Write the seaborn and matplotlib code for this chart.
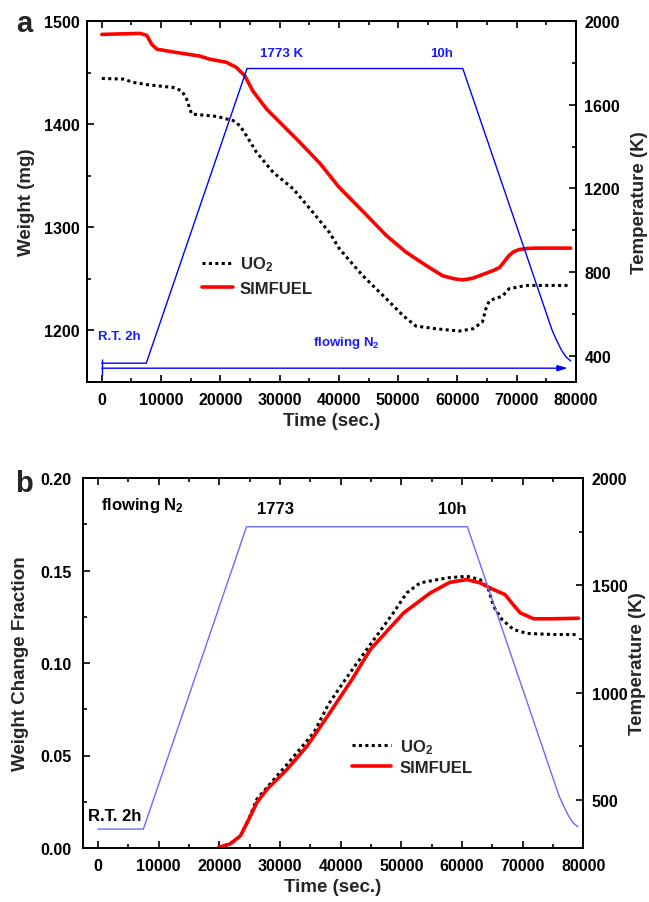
import matplotlib
matplotlib.use("Agg")
import matplotlib.pyplot as plt
import seaborn as sns
from matplotlib.ticker import MultipleLocator

# ---------------- data ----------------
# temperature programme (K) vs time (s)
temp_time = [0, 7500, 24500, 60900, 75000, 76000, 76800, 77500, 78300, 79100]
temp_K = [365, 365, 1773, 1773, 603, 520, 470, 430, 395, 376]

# panel a: weight (mg)
a_sim_t = [0, 6450, 7600, 8400, 9300, 12000, 16500, 18200, 21000, 22700, 24100, 25500,
           27800, 30600, 33400, 36800, 40000, 44800, 48000, 51300, 54700, 57500, 59500,
           60900, 62500, 63700, 66000, 67100, 67800, 68600, 69400, 70400, 71800, 73200, 79100]
a_sim_w = [1487, 1488, 1486, 1477.5, 1472.7, 1470, 1466, 1463, 1460, 1455, 1447, 1432,
           1414.6, 1398.5, 1382.4, 1362, 1339, 1311, 1292, 1276, 1263, 1253, 1250,
           1249, 1250.5, 1253, 1258, 1261, 1266, 1272, 1276, 1278.4, 1279.5, 1279.8, 1279.8]
a_uo2_t = [0, 3600, 5300, 8100, 12000, 13500, 14300, 15150, 19400, 22200, 23300, 24400,
           26100, 28900, 32300, 35600, 38400, 40100, 44000, 48000, 50800, 53000, 56400,
           60300, 62600, 64200, 64800, 65400, 67600, 68700, 71500, 76000, 79000]
a_uo2_w = [1444.3, 1443.7, 1440.5, 1437.9, 1435.6, 1432.3, 1424.3, 1409.8, 1407.5, 1403.3,
           1398.5, 1388.8, 1372.7, 1353.3, 1337.2, 1314.6, 1295, 1279, 1253.2, 1230.7,
           1214.5, 1204.2, 1201.6, 1199.4, 1201.6, 1208.1, 1221, 1229, 1233.3, 1240.4,
           1243.6, 1243.6, 1243.6]

# panel b: weight change fraction
b_sim_t = [19900, 21800, 23500, 24900, 26200, 27900, 31200, 34500, 38000, 41900, 44900,
           50400, 54800, 58000, 60800, 63000, 65200, 67100, 68200, 69600, 71800, 75000, 79200]
b_sim_f = [0.0004, 0.0022, 0.0066, 0.0156, 0.0246, 0.0318, 0.0426, 0.0552, 0.072, 0.0912,
           0.1073, 0.1271, 0.1379, 0.1436, 0.1451, 0.1433, 0.1397, 0.137, 0.1325, 0.1271,
           0.1239, 0.1239, 0.1242]
b_uo2_t = [19900, 21800, 23500, 24900, 26200, 31200, 35600, 38000, 41000, 44900, 48700,
           50900, 53100, 57500, 60800, 63000, 64400, 65200, 66600, 68500, 70700, 75000, 79200]
b_uo2_f = [0.0004, 0.0022, 0.0066, 0.0160, 0.0264, 0.0453, 0.0624, 0.0777, 0.0921, 0.110,
           0.1271, 0.1379, 0.1433, 0.146, 0.1469, 0.1451, 0.1397, 0.1307, 0.1235, 0.1181,
           0.116, 0.1154, 0.1154]

# ---------------- style ----------------
sns.set_style("ticks")
plt.rcParams["font.family"] = ["Liberation Sans", "DejaVu Sans"]
plt.rcParams["font.weight"] = "bold"
plt.rcParams["axes.labelweight"] = "bold"
plt.rcParams["mathtext.fontset"] = "custom"
plt.rcParams["mathtext.rm"] = "Liberation Sans:bold"
plt.rcParams["mathtext.it"] = "Liberation Sans:bold"
plt.rcParams["mathtext.bf"] = "Liberation Sans:bold"
plt.rcParams["mathtext.default"] = "rm"

W, H = 649, 903
fig = plt.figure(figsize=(W / 100, H / 100), dpi=100)


def rect(l, r, t, b):
    return [l / W, 1 - b / H, (r - l) / W, (b - t) / H]


dot = (0, (1, 1.1))
TICK = 11.5
LAB = 13.5


def style_axes(ax, ax2, xpad, ypad, rpad):
    for a in (ax, ax2):
        for s in a.spines.values():
            s.set_linewidth(1.3)
            s.set_color("black")
    ax.set_xlim(-2500, 80000)
    ax.xaxis.set_major_locator(MultipleLocator(10000))
    ax.xaxis.set_minor_locator(MultipleLocator(5000))
    ax.tick_params(axis="both", which="both", direction="in", top=True, right=False,
                   width=1.2, labelsize=TICK, colors="black")
    ax.tick_params(which="major", length=5)
    ax.tick_params(which="minor", length=3)
    ax.tick_params(axis="x", pad=xpad)
    ax.tick_params(axis="y", pad=ypad)
    ax2.tick_params(axis="y", which="both", direction="in", right=True, width=1.2,
                    labelsize=TICK, pad=rpad, colors="black")
    ax2.tick_params(which="major", length=5)
    ax2.tick_params(which="minor", length=3)
    for lab in ax.get_xticklabels() + ax.get_yticklabels() + ax2.get_yticklabels():
        lab.set_fontweight("bold")


# ================= panel a =================
ax = fig.add_axes(rect(87, 576, 22, 383))
ax2 = ax.twinx()
sns.lineplot(x=a_uo2_t, y=a_uo2_w, ax=ax, color="black", lw=2.2, linestyle=dot, label="UO$_2$")
sns.lineplot(x=a_sim_t, y=a_sim_w, ax=ax, color="#ff0000", lw=2.6, label="SIMFUEL")
sns.lineplot(x=temp_time, y=temp_K, ax=ax2, color="#0000ff", lw=1.0)
ax.set_ylim(1150, 1500)
ax.yaxis.set_major_locator(MultipleLocator(100))
ax.yaxis.set_minor_locator(MultipleLocator(50))
ax2.set_ylim(275, 2000)
ax2.yaxis.set_major_locator(MultipleLocator(400))
ax2.yaxis.set_minor_locator(MultipleLocator(200))
style_axes(ax, ax2, 7, 5, 6)
ax.set_xlabel("Time (sec.)", fontsize=LAB, labelpad=4)
ax.set_ylabel("Weight (mg)", fontsize=LAB, labelpad=7)
ax2.set_ylabel("Temperature (K)", fontsize=LAB, labelpad=8)
ax.legend(loc="center left", bbox_to_anchor=((202 - 87) / 489, 1 - (276 - 22) / 361),
          frameon=False, fontsize=12, handlelength=1.86, handletextpad=0.42,
          borderpad=0, borderaxespad=0, labelspacing=0.45)
blue = "#1a1aff"
ax2.text(30300, 1849, "1773 K", color=blue, fontsize=9.5, fontweight="bold", ha="center", va="center")
ax2.text(57240, 1849, "10h", color=blue, fontsize=9.5, fontweight="bold", ha="center", va="center")
ax2.text(-570, 493, "R.T. 2h", color=blue, fontsize=9.5, fontweight="bold", ha="left", va="center")
ax2.text(41300, 465, "flowing N$_2$", color=blue, fontsize=9.5, fontweight="bold", ha="center", va="center")
ax2.annotate("", xy=(78600, 341), xytext=(0, 341),
             arrowprops=dict(arrowstyle="-|>,head_length=0.6,head_width=0.18", color="#0000ff", lw=1.0,
                             shrinkA=0, shrinkB=0))
ax2.vlines(0, 309, 387, color="#0000ff", lw=1.0)
fig.text(16 / W, 1 - 32 / H, "a", fontsize=21, fontweight="bold", ha="left", va="baseline")

# ================= panel b =================
bx = fig.add_axes(rect(82.7, 583.3, 479, 849))
bx2 = bx.twinx()
sns.lineplot(x=b_uo2_t, y=b_uo2_f, ax=bx, color="black", lw=2.2, linestyle=dot, label="UO$_2$")
sns.lineplot(x=b_sim_t, y=b_sim_f, ax=bx, color="#ff0000", lw=2.6, label="SIMFUEL")
sns.lineplot(x=temp_time, y=temp_K, ax=bx2, color="#6a6aff", lw=1.0)
bx.set_ylim(0, 0.2)
bx.yaxis.set_major_locator(MultipleLocator(0.05))
bx.yaxis.set_minor_locator(MultipleLocator(0.025))
bx.yaxis.set_major_formatter(matplotlib.ticker.FormatStrFormatter("%.2f"))
bx2.set_ylim(277, 2000)
bx2.yaxis.set_major_locator(MultipleLocator(500))
bx2.yaxis.set_minor_locator(MultipleLocator(250))
style_axes(bx, bx2, 7.5, 8, 6)
bx.set_xlabel("Time (sec.)", fontsize=LAB, labelpad=3)
bx.set_ylabel("Weight Change Fraction", fontsize=LAB, labelpad=8)
bx2.set_ylabel("Temperature (K)", fontsize=LAB, labelpad=1)
bx.legend(loc="center left", bbox_to_anchor=((352.3 - 82.7) / 500.6, 1 - (757 - 479) / 370),
          frameon=False, fontsize=12, handlelength=2.35, handletextpad=0.5,
          borderpad=0, borderaxespad=0, labelspacing=0.25)
bx2.text(440, 1875, "flowing N$_2$", color="black", fontsize=12, fontweight="bold", ha="left", va="center")
bx2.text(29250, 1860, "1773", color="black", fontsize=12, fontweight="bold", ha="center", va="center")
bx2.text(58340, 1860, "10h", color="black", fontsize=12, fontweight="bold", ha="center", va="center")
bx2.text(-1650, 430, "R.T. 2h", color="black", fontsize=12, fontweight="bold", ha="left", va="center")
fig.text(15 / W, 1 - 492 / H, "b", fontsize=21, fontweight="bold", ha="left", va="baseline")

fig.savefig("out.png", dpi=100)
